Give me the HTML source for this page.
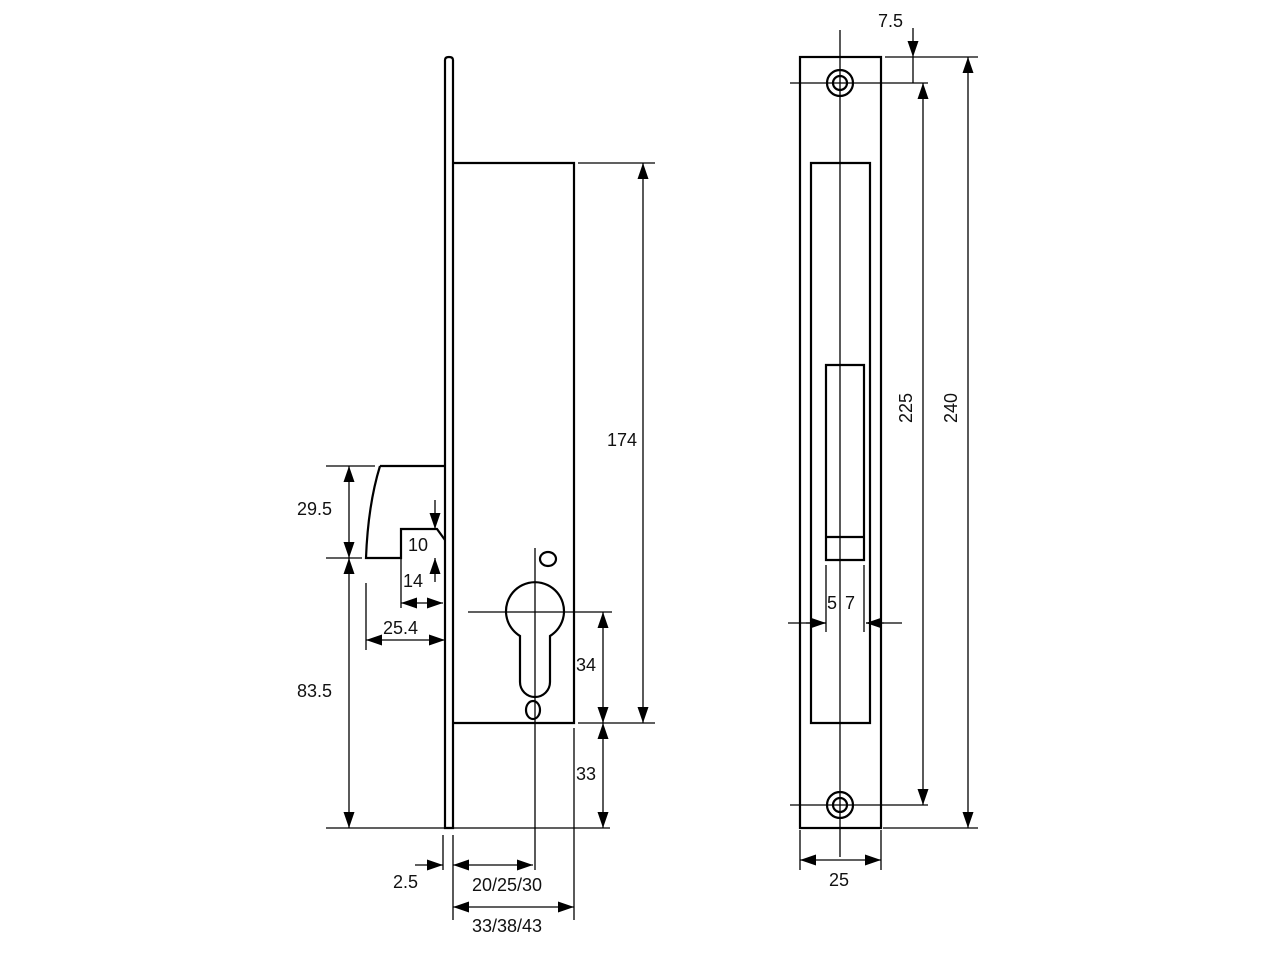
<!DOCTYPE html>
<html><head><meta charset="utf-8"><style>
html,body{margin:0;padding:0;background:#fff;}
svg{display:block;}
text{font-family:"Liberation Sans","DejaVu Sans",sans-serif;font-size:18px;fill:#111;}
</style></head><body>
<svg width="1280" height="960" viewBox="0 0 1280 960" xmlns="http://www.w3.org/2000/svg">
<defs>
<marker id="a" viewBox="0 0 16 11" refX="16" refY="5.5" markerWidth="16" markerHeight="11" markerUnits="userSpaceOnUse" orient="auto-start-reverse"><path d="M0,0 L16,5.5 L0,11 z" fill="#000"/></marker>
</defs>
<g stroke="#000" fill="none" stroke-width="2.2">
<!-- left view -->
<path d="M445,828 V60 Q445,57 449,57 Q453,57 453,60 V828 Z"/>
<path d="M453,163 H574 V723 H453"/>
<path d="M380,466 H445 M380,466 Q368,505 366,558 H401 V529 H437 L445,540"/>
<!-- keyhole -->
<path d="M520,636 A29,29 0 1 1 550,636 V682 A15,15 0 0 1 520,682 Z"/>
<ellipse cx="548" cy="559" rx="8" ry="7"/>
<ellipse cx="533" cy="710" rx="7" ry="9"/>
<!-- right view -->
<rect x="800" y="57" width="81" height="771"/>
<path d="M811,723 V163 H870 V723 Z"/>
<path d="M826,365 H864 V560 H826 Z M826,537 H864"/>
<circle cx="840" cy="83" r="13"/><circle cx="840" cy="83" r="7"/>
<circle cx="840" cy="805" r="13"/><circle cx="840" cy="805" r="7"/>
</g>
<g stroke="#000" fill="none" stroke-width="1.3">
<path d="M326,466 H375 M326,558 H362 M326,828 H610"/>
<path d="M401,558 V608 M366,583 V650"/>
<path d="M535,548 V870 M468,612 H612"/>
<path d="M578,163 H655 M578,723 H655 M574,728 V920 M443,835 V870 M453,835 V920"/>
<path d="M840,30 V857 M790,83 H928 M790,805 H928 M885,57 H978 M883,828 H978 M913,57 V83"/>
<path d="M826,565 V632 M864,565 V632 M788,623 H826 M866,623 H902"/>
<path d="M800,830 V870 M881,830 V870"/>
<path d="M349,466 V558" marker-start="url(#a)" marker-end="url(#a)"/>
<path d="M349,558 V828" marker-start="url(#a)" marker-end="url(#a)"/>
<path d="M435,500 V529" marker-end="url(#a)"/>
<path d="M435,582 V558" marker-end="url(#a)"/>
<path d="M401,603 H443" marker-start="url(#a)" marker-end="url(#a)"/>
<path d="M366,640 H445" marker-start="url(#a)" marker-end="url(#a)"/>
<path d="M603,612 V723" marker-start="url(#a)" marker-end="url(#a)"/>
<path d="M603,723 V828" marker-start="url(#a)" marker-end="url(#a)"/>
<path d="M643,163 V723" marker-start="url(#a)" marker-end="url(#a)"/>
<path d="M415,865 H443" marker-end="url(#a)"/>
<path d="M453,865 H533" marker-start="url(#a)" marker-end="url(#a)"/>
<path d="M453,907 H574" marker-start="url(#a)" marker-end="url(#a)"/>
<path d="M913,28 V57" marker-end="url(#a)"/>
<path d="M923,83 V805" marker-start="url(#a)" marker-end="url(#a)"/>
<path d="M968,57 V828" marker-start="url(#a)" marker-end="url(#a)"/>
<path d="M806,623 H826" marker-end="url(#a)"/>
<path d="M884,623 H866" marker-end="url(#a)"/>
<path d="M800,860 H881" marker-start="url(#a)" marker-end="url(#a)"/>
</g>
<g>
<text x="297" y="515">29.5</text>
<text x="297" y="697">83.5</text>
<text x="408" y="551">10</text>
<text x="403" y="587">14</text>
<text x="383" y="634">25.4</text>
<text x="607" y="446">174</text>
<text x="576" y="671">34</text>
<text x="576" y="780">33</text>
<text x="393" y="888">2.5</text>
<text x="472" y="891">20/25/30</text>
<text x="472" y="932">33/38/43</text>
<text x="878" y="27">7.5</text>
<text x="827" y="609">5</text>
<text x="845" y="609">7</text>
<text x="829" y="886">25</text>
<text transform="translate(912,423) rotate(-90)">225</text>
<text transform="translate(957,423) rotate(-90)">240</text>
</g>
</svg>
</body></html>
